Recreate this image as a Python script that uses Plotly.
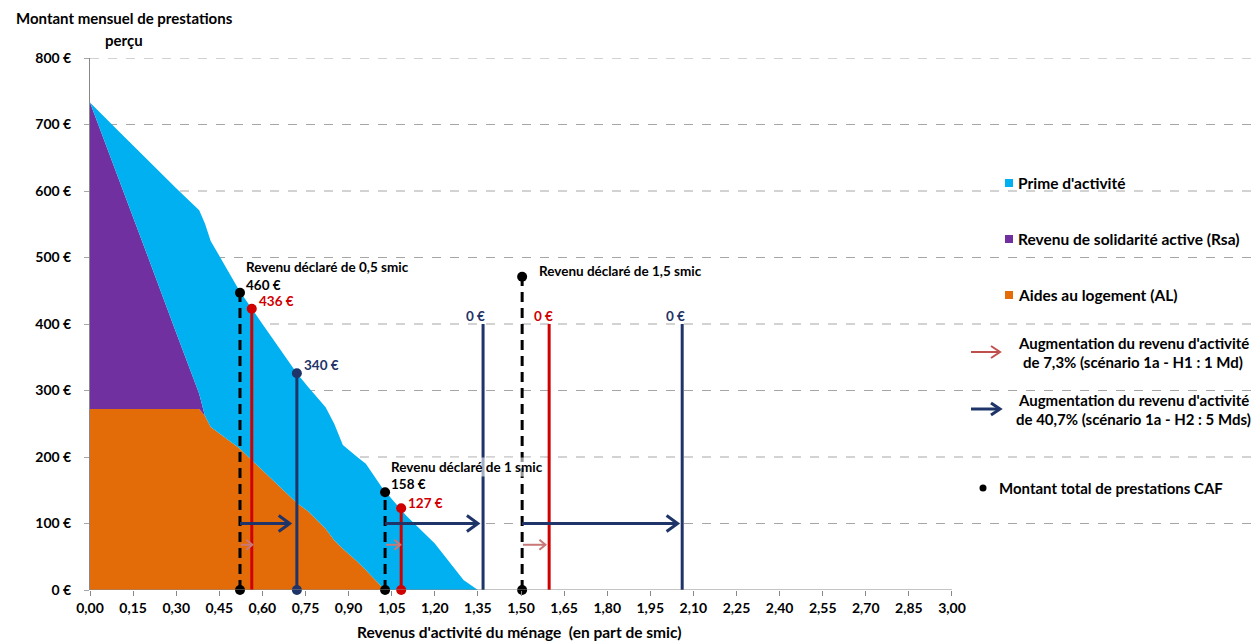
import plotly.graph_objects as go

# ---------------- data ----------------
x_grid = [0, 0.10, 0.20, 0.30, 0.38, 0.40, 0.42, 0.52, 0.60, 0.72, 0.76, 0.82, 0.85, 0.88, 0.93, 0.96, 1.015, 1.03, 1.10, 1.20, 1.30, 1.35]
total = [733, 690, 647, 604, 571, 551, 525, 450, 400, 326, 305, 275, 250, 218, 200, 190, 155, 147, 112, 70, 15, 0]
al = [272, 272, 272, 272, 272, 262, 245, 213, 180, 131, 118, 92, 75, 62, 43, 30, 5, 0, 0, 0, 0, 0]
rsa = [461, 346, 231, 115, 23, 0, 0, 0, 0, 0, 0, 0, 0, 0, 0, 0, 0, 0, 0, 0, 0, 0]
prime = [t - a - r for t, a, r in zip(total, al, rsa)]

# declared incomes (black dashed), scenario H1 (red), scenario H2 (navy)
base_x = [0.522, 1.027, 1.504]
base_h = [447, 147, 471]
base_lbl = ["460 €", "158 €", ""]
h1_x = [0.563, 1.083, 1.598]
h1_h = [423, 123, 400]
h1_lbl = ["436 €", "127 €", "0 €"]
h2_x = [0.720, 1.368, 2.061]
h2_h = [326, 400, 400]
h2_lbl = ["340 €", "0 €", "0 €"]
h2_arrow_end = [0.695, 1.350, 2.045]
h1_arrow_end = [0.565, 1.080, 1.585]

x_ticks = [i * 0.15 for i in range(21)]
y_ticks = list(range(0, 900, 100))

C_CYAN = "#00B0F0"
C_PURPLE = "#7030A0"
C_ORANGE = "#E36C09"
C_RED = "#D00000"
C_NAVY = "#1F3468"
FONT = "Lato"

W, H = 1254, 642
ML, MR, MT, MB = 90, 0, 58, 52
PW, PH = W - ML - MR, H - MT - MB
px_x = 287.33  # px per unit x
px_y = PH / 800.0
XMAX = PW / px_x

fig = go.Figure()

# stacked areas
for name, vals, col in [("Aides au logement (AL)", al, C_ORANGE),
                        ("Revenu de solidarité active (Rsa)", rsa, C_PURPLE),
                        ("Prime d'activité", prime, C_CYAN)]:
    fig.add_trace(go.Scatter(x=x_grid, y=vals, stackgroup="s", mode="none",
                             fillcolor=col, name=name, showlegend=False))

# vertical lines
for xv, hv in zip(base_x, base_h):
    fig.add_trace(go.Scatter(x=[xv, xv], y=[0, hv], mode="lines+markers", cliponaxis=False,
                             line=dict(color="black", width=3, dash="10px,6px"),
                             marker=dict(size=10, color="black"), showlegend=False))
for i, (xv, hv) in enumerate(zip(h1_x, h1_h)):
    fig.add_trace(go.Scatter(x=[xv, xv], y=[0, hv], mode="lines",
                             line=dict(color=C_RED, width=3), showlegend=False))
    if i < 2:
        pts_y = [hv] if i == 0 else [0, hv]
        fig.add_trace(go.Scatter(x=[xv] * len(pts_y), y=pts_y, mode="markers", cliponaxis=False,
                                 marker=dict(size=10, color=C_RED), showlegend=False))
for i, (xv, hv) in enumerate(zip(h2_x, h2_h)):
    fig.add_trace(go.Scatter(x=[xv, xv], y=[0, hv], mode="lines" if i else "lines+markers",
                             cliponaxis=False,
                             line=dict(color=C_NAVY, width=3),
                             marker=dict(size=10, color=C_NAVY), showlegend=False))


def arrow(x0, x1, y, col, w, hl, hh):
    dx = hl / px_x
    dy = hh / px_y
    fig.add_trace(go.Scatter(x=[x0, x1], y=[y, y], mode="lines",
                             line=dict(color=col, width=w), showlegend=False))
    fig.add_trace(go.Scatter(x=[x1 - dx, x1, x1 - dx], y=[y + dy, y, y - dy], mode="lines",
                             line=dict(color=col, width=w), showlegend=False))


for x0, x1 in zip(base_x, h2_arrow_end):
    arrow(x0, x1, 100, C_NAVY, 3, 11, 8)
for x0, x1 in zip(base_x, h1_arrow_end):
    arrow(x0 + 0.003, x1, 68, "#C87878", 2, 6, 5)

ann = []


def txt(x, y, s, col="black", anchor="left", size=13.5, bg=None):
    d = dict(x=x, y=y, xref="x", yref="y", text=s, showarrow=False,
             xanchor=anchor, yanchor="middle",
             font=dict(family=FONT, size=size, color=col, weight="bold"))
    if bg:
        d["bgcolor"] = bg
    ann.append(d)


# chart labels
txt(0.535, 485, "Revenu déclaré de 0,5 smic")
txt(0.535, 458, base_lbl[0])
txt(1.040, 160, base_lbl[1])
txt(1.040, 185, "Revenu déclaré de 1 smic", bg="rgba(255,255,255,0.6)")
txt(1.555, 479, "Revenu déclaré de 1,5 smic")
txt(0.580, 434, h1_lbl[0], C_RED)
txt(1.100, 131, h1_lbl[1], C_RED)
txt(h1_x[2] - 0.02, 412, h1_lbl[2], C_RED, anchor="center")
txt(0.738, 339, h2_lbl[0], C_NAVY)
txt(h2_x[1] - 0.025, 412, h2_lbl[1], C_NAVY, anchor="center")
txt(h2_x[2] - 0.025, 412, h2_lbl[2], C_NAVY, anchor="center")


def P(xp, yp):
    return (xp - ML) / PW, (H - MB - yp) / PH


def ptxt(xp, yp, s, anchor="left", size=15.5):
    xx, yy = P(xp, yp)
    ann.append(dict(x=xx, y=yy, xref="paper", yref="paper", text=s, showarrow=False,
                    xanchor=anchor, yanchor="middle",
                    font=dict(family=FONT, size=size, color="black", weight="bold")))


# axis titles
ptxt(124, 18, "Montant mensuel de prestations", "center", 15)
ptxt(124, 40, "perçu", "center", 15)
ptxt(519, 632, "Revenus d'activité du ménage  (en part de smic)", "center", 15.5)

# custom legend
shapes = []
for col, label, yp in [(C_CYAN, "Prime d'activité", 183),
                       (C_PURPLE, "Revenu de solidarité active (Rsa)", 239),
                       (C_ORANGE, "Aides au logement (AL)", 295)]:
    x0, y0 = P(1005, yp + 4)
    x1, y1 = P(1013, yp - 4)
    shapes.append(dict(type="rect", xref="paper", yref="paper", x0=x0, x1=x1, y0=y0, y1=y1,
                       fillcolor=col, line=dict(width=0), layer="above"))
    ptxt(1016, yp, label)

for col, w, yp, l1, l2 in [("#C0504D", 2, 352, "Augmentation du revenu d'activité", "de 7,3% (scénario 1a - H1 : 1 Md)"),
                           (C_NAVY, 3, 409, "Augmentation du revenu d'activité", "de 40,7% (scénario 1a - H2 : 5 Mds)")]:
    xa, ya = P(971, yp)
    xb, yb = P(1000, yp)
    shapes.append(dict(type="line", xref="paper", yref="paper", x0=xa, x1=xb, y0=ya, y1=yb,
                       line=dict(color=col, width=w)))
    hx, hy1 = P(1000 - 9, yp - 6)
    _, hy2 = P(0, yp + 6)
    shapes.append(dict(type="path", xref="paper", yref="paper",
                       path=f"M {hx},{hy1} L {xb},{yb} L {hx},{hy2}",
                       line=dict(color=col, width=w)))
    ptxt(1133, yp - 9, l1, "center", 15)
    ptxt(1133, yp + 10, l2, "center", 15)

xd, yd = P(983, 488)
fig.add_trace(go.Scatter(x=[xd], y=[yd], xaxis="x2", yaxis="y2", mode="markers",
                         marker=dict(size=7, color="black"), showlegend=False))
ptxt(997, 488, "Montant total de prestations CAF", size=15)

# gridlines (dashed) and x axis line
for yv in y_ticks[1:]:
    shapes.append(dict(type="line", xref="x", yref="y", x0=0, x1=XMAX, y0=yv, y1=yv,
                       line=dict(color="#A6A6A6", width=1, dash="dash"), layer="below"))
shapes.append(dict(type="line", xref="x", yref="y", x0=0, x1=3.0, y0=0, y1=0,
                   line=dict(color="#888888", width=1), layer="above"))

fig.update_layout(
    width=W, height=H, autosize=False,
    margin=dict(l=ML, r=MR, t=MT, b=MB),
    plot_bgcolor="white", paper_bgcolor="white",
    showlegend=False,
    annotations=ann, shapes=shapes,
    xaxis=dict(range=[0, XMAX], tickvals=x_ticks,
               ticktext=[f"{v:.2f}".replace(".", ",") for v in x_ticks],
               showgrid=False, zeroline=False, showline=False,
               ticks="outside", ticklen=5, tickcolor="#888888",
               tickfont=dict(family=FONT, size=14, color="black", weight="bold")),
    yaxis=dict(range=[0, 800], tickvals=y_ticks, ticktext=[f"{v} €" for v in y_ticks],
               showgrid=False, zeroline=False, showline=True, linecolor="#888888", linewidth=1,
               ticks="outside", ticklen=5, tickcolor="#A6A6A6", ticklabelstandoff=10,
               tickfont=dict(family=FONT, size=14, color="black", weight="bold")),
    xaxis2=dict(range=[0, 1], domain=[0, 1], overlaying="x", visible=False),
    yaxis2=dict(range=[0, 1], domain=[0, 1], overlaying="y", visible=False),
)

fig.write_html("out.html", config={"displayModeBar": False},
               post_script="document.body.style.margin='0px';document.body.style.overflow='hidden';")
